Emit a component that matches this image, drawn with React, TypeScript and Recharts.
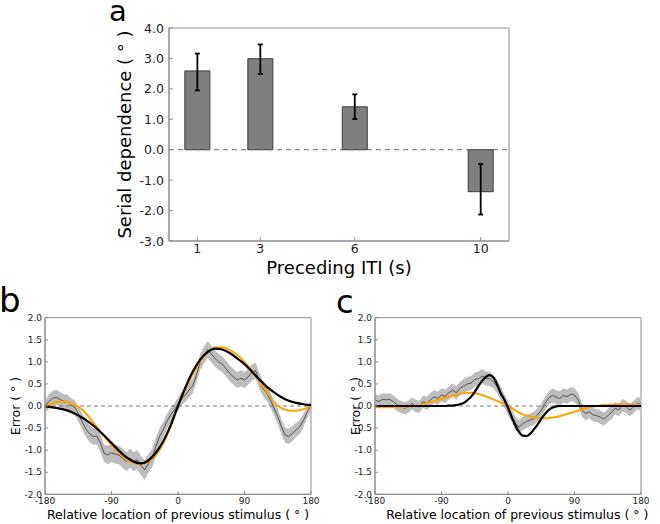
import React from 'react';
import { ComposedChart, Bar, ErrorBar, XAxis, YAxis, ReferenceLine, ReferenceArea, Line, Area } from 'recharts';

const FONT = '"DejaVu Sans", "Liberation Sans", sans-serif';
const AXIS = '#8c8c8c';
const TEXT = '#1a1a1a';

// ---------------- panel a ----------------
const itiSeconds = [1, 3, 6, 10];
const serialDependence = [2.59, 2.99, 1.41, -1.38];
const sdErrLower = [0.64, 0.5, 0.4, 0.75];
const sdErrUpper = [0.57, 0.47, 0.41, 0.91];
const aXTicks = [1, 3, 6, 10];
const aYTicks = [-3, -2, -1, 0, 1, 2, 3, 4];
const aXDomain = [0.1, 10.9];
const aYDomain = [-3, 4];

// ---------------- panels b, c ----------------
const deg5 = [-180, -175, -170, -165, -160, -155, -150, -145, -140, -135, -130, -125, -120, -115, -110, -105, -100, -95, -90, -85, -80, -75, -70, -65, -60, -55, -50, -45, -40, -35, -30, -25, -20, -15, -10, -5, 0, 5, 10, 15, 20, 25, 30, 35, 40, 45, 50, 55, 60, 65, 70, 75, 80, 85, 90, 95, 100, 105, 110, 115, 120, 125, 130, 135, 140, 145, 150, 155, 160, 165, 170, 175, 180];
const deg10 = [-180, -170, -160, -150, -140, -130, -120, -110, -100, -90, -80, -70, -60, -50, -40, -30, -20, -10, 0, 10, 20, 30, 40, 50, 60, 70, 80, 90, 100, 110, 120, 130, 140, 150, 160, 170, 180];
const degTicks = [-180, -90, 0, 90, 180];
const errTicks = [-2, -1.5, -1, -0.5, 0, 0.5, 1, 1.5, 2];
const degDomain = [-180, 180];
const errDomain = [-2, 2];

const bMean = [-0.02, 0.1, 0.17, 0.2, 0.15, 0.11, 0.1, 0.02, -0.03, -0.17, -0.35, -0.51, -0.62, -0.69, -0.68, -0.84, -1.07, -1.11, -1.06, -1.09, -1.11, -1.18, -1.26, -1.18, -1.26, -1.22, -1.35, -1.45, -1.3, -1.18, -0.92, -0.69, -0.54, -0.35, -0.2, -0.09, 0.04, 0.17, 0.25, 0.36, 0.46, 0.7, 1.0, 1.15, 1.28, 1.18, 1.08, 1.0, 0.95, 0.85, 0.74, 0.66, 0.59, 0.63, 0.59, 0.66, 0.76, 0.8, 0.57, 0.4, 0.29, 0.14, -0.05, -0.24, -0.47, -0.66, -0.69, -0.62, -0.54, -0.47, -0.32, -0.13, 0.02];
const bSem = [0.15, 0.16, 0.17, 0.17, 0.17, 0.16, 0.16, 0.16, 0.16, 0.17, 0.18, 0.18, 0.19, 0.19, 0.19, 0.2, 0.2, 0.21, 0.21, 0.21, 0.21, 0.22, 0.22, 0.22, 0.22, 0.22, 0.22, 0.22, 0.21, 0.21, 0.2, 0.19, 0.18, 0.17, 0.16, 0.15, 0.15, 0.15, 0.16, 0.16, 0.17, 0.17, 0.18, 0.19, 0.19, 0.19, 0.19, 0.18, 0.18, 0.18, 0.18, 0.18, 0.18, 0.18, 0.18, 0.18, 0.18, 0.18, 0.18, 0.18, 0.17, 0.17, 0.17, 0.17, 0.17, 0.17, 0.17, 0.17, 0.16, 0.16, 0.15, 0.14, 0.12];
const bBlackFit = [-0.01, -0.03, -0.06, -0.1, -0.17, -0.26, -0.37, -0.51, -0.67, -0.84, -1.01, -1.16, -1.26, -1.3, -1.23, -1.06, -0.8, -0.44, 0.0, 0.42, 0.78, 1.05, 1.22, 1.3, 1.28, 1.2, 1.08, 0.95, 0.78, 0.6, 0.44, 0.31, 0.2, 0.12, 0.07, 0.04, 0.02];
const bOrangeFit = [0.0, 0.06, 0.1, 0.09, 0.03, -0.08, -0.26, -0.47, -0.68, -0.88, -1.06, -1.2, -1.29, -1.31, -1.26, -1.12, -0.85, -0.46, 0.0, 0.37, 0.72, 1.02, 1.23, 1.32, 1.33, 1.27, 1.16, 1.0, 0.8, 0.57, 0.33, 0.08, -0.05, -0.1, -0.11, -0.07, 0.0];

const cMean = [0.14, 0.1, 0.15, 0.14, 0.15, 0.1, 0.02, -0.02, -0.05, -0.02, 0.06, 0.0, -0.02, 0.1, 0.06, 0.14, 0.21, 0.17, 0.25, 0.22, 0.3, 0.36, 0.3, 0.4, 0.45, 0.5, 0.52, 0.6, 0.62, 0.68, 0.62, 0.62, 0.55, 0.45, 0.3, 0.12, -0.05, -0.22, -0.39, -0.48, -0.4, -0.35, -0.32, -0.28, -0.2, -0.1, 0.06, 0.18, 0.24, 0.2, 0.17, 0.24, 0.21, 0.27, 0.25, 0.14, -0.09, -0.17, -0.13, -0.2, -0.22, -0.25, -0.3, -0.22, -0.15, -0.05, -0.09, 0.02, -0.02, -0.09, -0.02, 0.06, 0.04];
const cSem = [0.14, 0.14, 0.14, 0.14, 0.14, 0.14, 0.14, 0.14, 0.14, 0.14, 0.14, 0.14, 0.14, 0.14, 0.15, 0.15, 0.15, 0.15, 0.15, 0.15, 0.15, 0.15, 0.15, 0.15, 0.16, 0.16, 0.16, 0.16, 0.16, 0.16, 0.16, 0.16, 0.15, 0.15, 0.15, 0.15, 0.15, 0.15, 0.15, 0.15, 0.15, 0.15, 0.15, 0.15, 0.15, 0.15, 0.15, 0.15, 0.16, 0.16, 0.16, 0.16, 0.16, 0.16, 0.16, 0.15, 0.15, 0.15, 0.15, 0.15, 0.15, 0.15, 0.15, 0.15, 0.15, 0.14, 0.14, 0.14, 0.14, 0.14, 0.14, 0.14, 0.14];
const cBlackFit = [0, 0, 0, 0, 0, 0, 0, 0, 0, 0, 0, 0, 0, 0, 0, 0, 0, 0, 0, 0.0, 0.01, 0.01, 0.02, 0.04, 0.07, 0.13, 0.21, 0.32, 0.45, 0.57, 0.66, 0.7, 0.65, 0.5, 0.29, 0.15, -0.04, -0.25, -0.44, -0.59, -0.67, -0.68, -0.63, -0.53, -0.42, -0.29, -0.18, -0.09, -0.04, -0.01, 0.0, 0, 0, 0, 0, 0, 0, 0, 0, 0, 0, 0, 0, 0, 0, 0, 0, 0, 0, 0, 0, 0, 0];
const cOrangeFit = [-0.02, -0.03, -0.03, -0.03, -0.02, -0.01, 0.02, 0.06, 0.11, 0.16, 0.21, 0.25, 0.29, 0.3, 0.27, 0.22, 0.15, 0.08, 0.0, -0.1, -0.19, -0.24, -0.27, -0.28, -0.26, -0.23, -0.18, -0.13, -0.08, -0.03, 0.0, 0.02, 0.03, 0.04, 0.04, 0.03, 0.03];

const aRows = itiSeconds.map((t, i) => ({
  iti: t,
  sd: serialDependence[i],
  err: [sdErrLower[i], sdErrUpper[i]],
}));

const pick = (arr: number[], d: number, i: number) => {
  if (arr.length === deg5.length) return arr[i];
  const j = deg10.indexOf(d);
  return j >= 0 ? arr[j] : null;
};

const buildRows = (mean: number[], sem: number[], black: number[], orange: number[]) =>
  deg5.map((d, i) => ({
    deg: d,
    mean: mean[i],
    band: [mean[i] - sem[i], mean[i] + sem[i]],
    black: pick(black, d, i),
    orange: pick(orange, d, i),
  }));

const bRows = buildRows(bMean, bSem, bBlackFit, bOrangeFit);
const cRows = buildRows(cMean, cSem, cBlackFit, cOrangeFit);

type Side = 'bottom' | 'top' | 'left' | 'right';
const tickRenderer =
  (side: Side, len: number, fontSize: number, gap: number, fmt: ((v: number) => string) | null) =>
  (props: any) => {
    const { x, y, payload } = props;
    const v = payload.value;
    let line: any = null;
    let label: any = null;
    if (side === 'bottom') {
      line = <line x1={x} y1={y} x2={x} y2={y - len} stroke={AXIS} strokeWidth={1} />;
      if (fmt)
        label = (
          <text x={x} y={y + gap} textAnchor="middle" fontSize={fontSize} fill={TEXT} fontFamily={FONT}>
            {fmt(v)}
          </text>
        );
    } else if (side === 'top') {
      line = <line x1={x} y1={y} x2={x} y2={y + len} stroke={AXIS} strokeWidth={1} />;
    } else if (side === 'left') {
      line = <line x1={x} y1={y} x2={x + len} y2={y} stroke={AXIS} strokeWidth={1} />;
      if (fmt)
        label = (
          <text x={x - gap} y={y + fontSize * 0.36} textAnchor="end" fontSize={fontSize} fill={TEXT} fontFamily={FONT}>
            {fmt(v)}
          </text>
        );
    } else {
      line = <line x1={x} y1={y} x2={x - len} y2={y} stroke={AXIS} strokeWidth={1} />;
    }
    return (
      <g>
        {line}
        {label}
      </g>
    );
  };

const fmt1 = (v: number) => v.toFixed(1);
const fmtInt = (v: number) => String(v);

const axisCommon = {
  stroke: AXIS,
  tickLine: false,
  tickSize: 0,
  tickMargin: 0,
  interval: 0 as const,
  allowDataOverflow: true,
};

const ErrorPanel = ({ rows }: { rows: any[] }) => (
  <ComposedChart width={330} height={244} data={rows} margin={{ top: 37.7, right: 19, bottom: 9.7, left: 15 }}>
    <XAxis
      dataKey="deg"
      type="number"
      domain={degDomain}
      ticks={degTicks}
      height={20}
      {...axisCommon}
      tick={tickRenderer('bottom', 3, 9, 9.5, fmtInt)}
    />
    <XAxis
      xAxisId="top"
      dataKey="deg"
      orientation="top"
      type="number"
      domain={degDomain}
      ticks={degTicks}
      height={0}
      {...axisCommon}
      tick={tickRenderer('top', 3, 9, 0, null)}
    />
    <YAxis type="number" domain={errDomain} ticks={errTicks} width={30} {...axisCommon} tick={tickRenderer('left', 3, 9, 3, fmt1)} />
    <YAxis
      yAxisId="right"
      orientation="right"
      type="number"
      domain={errDomain}
      ticks={errTicks}
      width={0}
      {...axisCommon}
      tick={tickRenderer('right', 3, 9, 0, null)}
    />
    <ReferenceArea x1={degDomain[0]} x2={degDomain[1]} y1={errDomain[0]} y2={errDomain[1]} fill="none" stroke={AXIS} strokeWidth={1} fillOpacity={0} />
    <Area dataKey="band" type="linear" stroke="none" fill="#bdbdbd" fillOpacity={1} isAnimationActive={false} />
    <ReferenceLine y={0} stroke="#7a7a7a" strokeDasharray="4 3" strokeWidth={1} />
    <Line dataKey="mean" type="linear" stroke="#3a3a3a" strokeWidth={0.8} dot={false} isAnimationActive={false} />
    <Line dataKey="orange" type="monotone" stroke="#FFA500" strokeWidth={2} dot={false} connectNulls isAnimationActive={false} />
    <Line dataKey="black" type="monotone" stroke="#000000" strokeWidth={2.2} dot={false} connectNulls isAnimationActive={false} />
    <Line
      dataKey="mean"
      xAxisId="top"
      yAxisId="right"
      stroke="none"
      strokeWidth={0}
      dot={false}
      activeDot={false}
      legendType="none"
      isAnimationActive={false}
    />
  </ComposedChart>
);

const App = () => (
  <div style={{ position: 'fixed', left: 0, top: 0, width: 660, height: 524, background: '#fff', fontFamily: FONT }}>
    <div style={{ position: 'absolute', left: 0, top: 0 }}>
      <ComposedChart width={660} height={280} data={aRows} margin={{ top: 28, right: 151, bottom: 9, left: 129 }}>
        <XAxis
          dataKey="iti"
          type="number"
          domain={aXDomain}
          ticks={aXTicks}
          height={30}
          {...axisCommon}
          tick={tickRenderer('bottom', 4, 12.5, 12, fmtInt)}
        />
        <XAxis
          xAxisId="top"
          dataKey="iti"
          orientation="top"
          type="number"
          domain={aXDomain}
          ticks={aXTicks}
          height={0}
          {...axisCommon}
          tick={tickRenderer('top', 4, 12.5, 0, null)}
        />
        <YAxis type="number" domain={aYDomain} ticks={aYTicks} width={40} {...axisCommon} tick={tickRenderer('left', 4, 12.5, 5, fmt1)} />
        <YAxis
          yAxisId="right"
          orientation="right"
          type="number"
          domain={aYDomain}
          ticks={aYTicks}
          width={0}
          {...axisCommon}
          tick={tickRenderer('right', 4, 12.5, 0, null)}
        />
        <ReferenceArea x1={aXDomain[0]} x2={aXDomain[1]} y1={aYDomain[0]} y2={aYDomain[1]} fill="none" stroke={AXIS} strokeWidth={1} fillOpacity={0} />
        <ReferenceLine y={0} stroke="#666" strokeDasharray="5 4" strokeWidth={1} />
        <Bar dataKey="sd" fill="#7f7f7f" stroke="#3c3c3c" strokeWidth={1} barSize={25} isAnimationActive={false}>
          <ErrorBar dataKey="err" direction="y" width={2.5} strokeWidth={1.8} stroke="#000" />
        </Bar>
        <Line
          dataKey="sd"
          xAxisId="top"
          yAxisId="right"
          stroke="none"
          strokeWidth={0}
          dot={false}
          activeDot={false}
          legendType="none"
          isAnimationActive={false}
        />
      </ComposedChart>
    </div>
    <div style={{ position: 'absolute', left: 0, top: 280 }}>
      <ErrorPanel rows={bRows} />
    </div>
    <div style={{ position: 'absolute', left: 330, top: 280 }}>
      <ErrorPanel rows={cRows} />
    </div>
    <svg width={660} height={524} style={{ position: 'absolute', left: 0, top: 0, pointerEvents: 'none' }}>
      <g fontFamily={FONT} fill="#000">
        <text x={109} y={21} fontSize={29}>a</text>
        <text x={-1} y={312} fontSize={34}>b</text>
        <text x={336} y={313} fontSize={32}>c</text>
        <text x={131} y={134.5} fontSize={18} textAnchor="middle" transform="rotate(-90 131 134.5)">
          Serial dependence ( ° )
        </text>
        <text x={339} y={274} fontSize={18} textAnchor="middle">
          Preceding ITI (s)
        </text>
        <text x={19.5} y={406} fontSize={12.5} textAnchor="middle" transform="rotate(-90 19.5 406)">
          Error ( ° )
        </text>
        <text x={359.5} y={406} fontSize={12.5} textAnchor="middle" transform="rotate(-90 359.5 406)">
          Error ( ° )
        </text>
        <text x={178} y={519} fontSize={12.5} textAnchor="middle">
          Relative location of previous stimulus ( ° )
        </text>
        <text x={517.3} y={519} fontSize={12.5} textAnchor="middle">
          Relative location of previous stimulus ( ° )
        </text>
      </g>
    </svg>
  </div>
);

export default App;
